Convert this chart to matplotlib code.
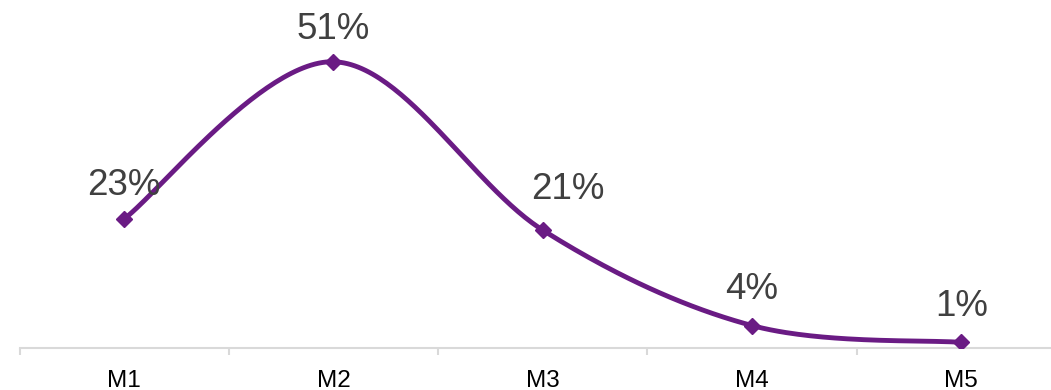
import matplotlib.pyplot as plt
import numpy as np

plt.rcParams['font.family'] = ['Liberation Sans', 'DejaVu Sans']

categories = ['M1', 'M2', 'M3', 'M4', 'M5']
values = [23, 51, 21, 4, 1]
labels = ['23%', '51%', '21%', '4%', '1%']

line_color = '#6A1B84'
text_color = '#404040'
axis_color = '#D9D9D9'

# label nudges in points (dx, dy) relative to each marker
label_offsets = [(0, 24), (0, 23), (18, 29), (0, 26), (0, 26)]


def smooth_curve(x, y, steps=60):
    # Catmull-Rom style bezier smoothing through every point
    pts = np.column_stack([x, y]).astype(float)
    padded = np.vstack([pts[0], pts, pts[-1]])
    out = []
    for i in range(len(pts) - 1):
        p0, p1, p2, p3 = padded[i], padded[i + 1], padded[i + 2], padded[i + 3]
        c1 = p1 + (p2 - p0) / 6
        c2 = p2 - (p3 - p1) / 6
        t = np.linspace(0, 1, steps)[:, None]
        seg = ((1 - t) ** 3 * p1 + 3 * (1 - t) ** 2 * t * c1
               + 3 * (1 - t) * t ** 2 * c2 + t ** 3 * p2)
        out.append(seg if i == 0 else seg[1:])
    seg = np.vstack(out)
    return seg[:, 0], seg[:, 1]


fig = plt.figure(figsize=(10.51, 3.9), dpi=100)
ax = fig.add_axes([19.5 / 1051, 42 / 390, 1046.5 / 1051, 348 / 390])

x = np.arange(len(categories))
sx, sy = smooth_curve(x, values)
ax.plot(sx, sy, color=line_color, lw=3.5, solid_capstyle='round', zorder=3)
ax.plot(x, values, 'D', color=line_color, markersize=8.5, zorder=4)

for xi, v, lab, off in zip(x, values, labels, label_offsets):
    ax.annotate(lab, (xi, v), xytext=off, textcoords='offset points',
                ha='center', va='center', fontsize=26.5, color=text_color)

ax.set_xlim(-0.5, 4.5)
ax.set_ylim(0, 62)
ax.set_yticks([])
ax.set_xticks(x)
ax.set_xticklabels(categories, fontsize=17.5, color='black')
ax.set_xticks(np.arange(-0.5, 5, 1), minor=True)
ax.tick_params(axis='x', which='major', length=0, pad=16)
ax.tick_params(axis='x', which='minor', length=5, width=1.5, color=axis_color)

for side in ['top', 'right', 'left']:
    ax.spines[side].set_visible(False)
ax.spines['bottom'].set_color(axis_color)
ax.spines['bottom'].set_linewidth(1.5)

plt.savefig('out.png', dpi=100)
plt.close()
